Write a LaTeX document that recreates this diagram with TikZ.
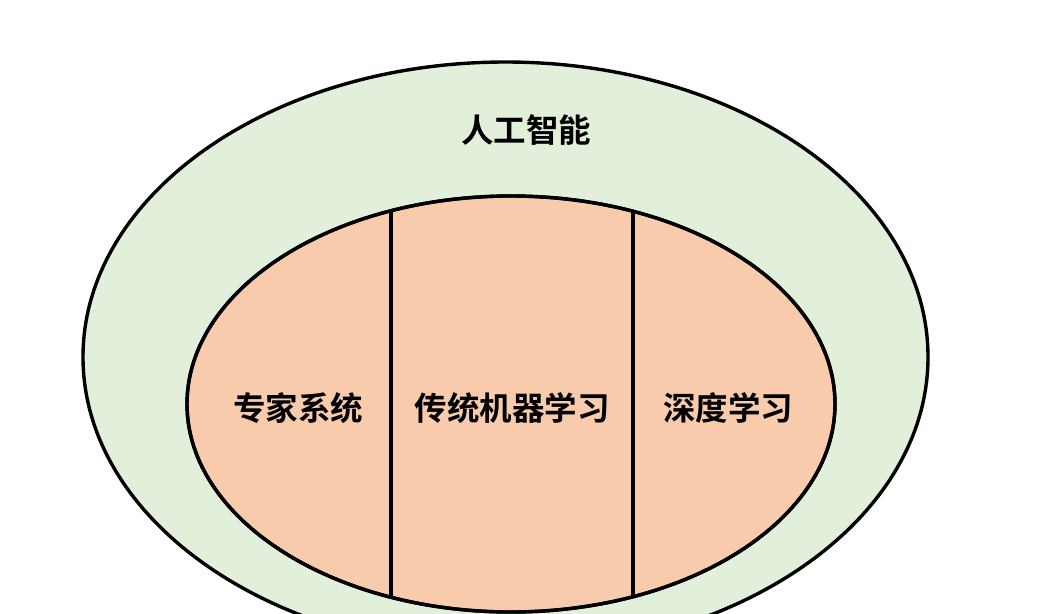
\documentclass[tikz,border=0pt]{standalone}
\usepackage{fontspec}
\newfontfamily\cjk{Noto Sans CJK SC}[BoldFont={Noto Sans CJK SC Bold}]
\definecolor{outerfill}{HTML}{E2EFDA}
\definecolor{innerfill}{HTML}{F8CBAD}
\begin{document}
\begin{tikzpicture}[x=1pt,y=-1pt,
  ring/.style={draw=black,line width=3.4pt},
  lbl/.style={font=\cjk\bfseries\fontsize{32.5}{36}\selectfont,text=black,inner sep=0pt}]
\useasboundingbox (0,0) rectangle (1054,613);
\clip (0,0) rectangle (1054,613);
\fill[white] (0,0) rectangle (1054,613);
\draw[ring,fill=outerfill] (505.5,357) ellipse [x radius=422.5, y radius=295];
\draw[ring,fill=innerfill] (511,404) ellipse [x radius=324, y radius=208];
\begin{scope}
  \clip (511,404) ellipse [x radius=324, y radius=208];
  \coordinate (l1) at (391,180);
  \coordinate (l2) at (391,640);
  \coordinate (r1) at (633,180);
  \coordinate (r2) at (633,640);
  \draw[line width=3.2pt] (l1) -- (l2);
  \draw[line width=3.2pt] (r1) -- (r2);
\end{scope}
\draw[ring] (511,404) ellipse [x radius=324, y radius=208];
\node[lbl] (ai) at (526,130) {人工智能};
\node[lbl] (es) at (298,408) {专家系统};
\node[lbl] (ml) at (512,408) {传统机器学习};
\node[lbl] (dl) at (728,408) {深度学习};
\end{tikzpicture}
\end{document}
